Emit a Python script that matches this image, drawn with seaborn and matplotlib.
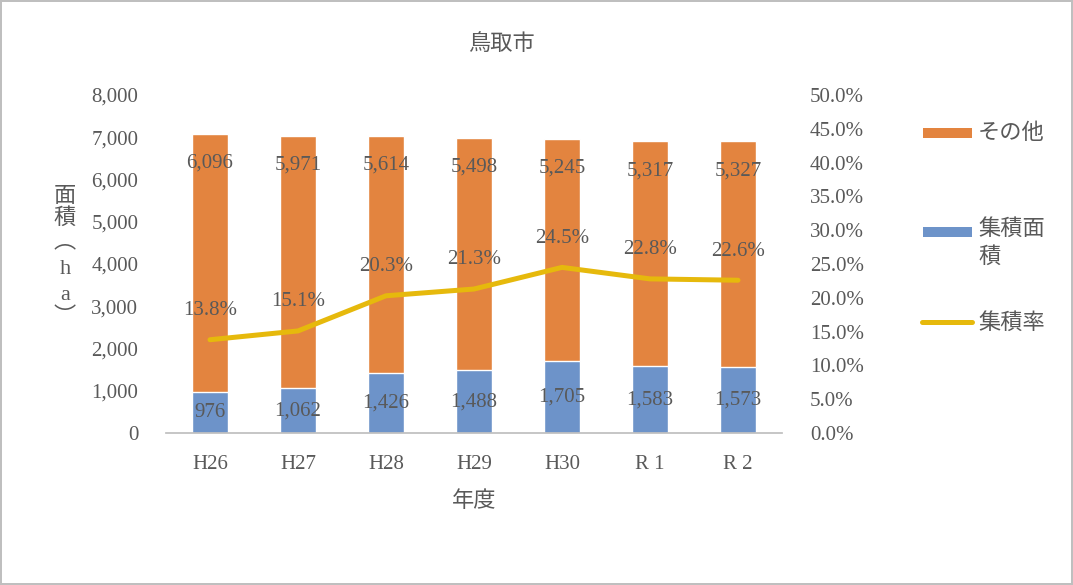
import matplotlib
import numpy as np
import pandas as pd

matplotlib.use("Agg")
import matplotlib.pyplot as plt  # noqa: E402
import seaborn as sns  # noqa: E402
from matplotlib.lines import Line2D  # noqa: E402
from matplotlib.patches import Rectangle  # noqa: E402
from matplotlib.ticker import FuncFormatter  # noqa: E402

# データ（年度別 面積 ha・集積率 %）
years = ["H26", "H27", "H28", "H29", "H30", "R 1", "R 2"]
shuseki = [976, 1062, 1426, 1488, 1705, 1583, 1573]      # 集積面積
sonota = [6096, 5971, 5614, 5498, 5245, 5317, 5327]      # その他
rate = [13.8, 15.1, 20.3, 21.3, 24.5, 22.8, 22.6]        # 集積率

C_ORANGE = "#E3843F"
C_BLUE = "#6D93C9"
C_GOLD = "#E6B90C"
C_TEXT = "#595959"
FS = 15
W, H = 1073, 585

sns.set_theme(style="white")
plt.rcParams["font.family"] = ["Liberation Serif", "Noto Sans CJK JP", "DejaVu Sans"]

df = pd.DataFrame({"year": years, "shuseki": shuseki, "sonota": sonota, "rate": rate})
df["total"] = df["shuseki"] + df["sonota"]
df["pos"] = np.arange(len(df))

fig = plt.figure(figsize=(W / 100, H / 100), dpi=100)
fig.patch.set_edgecolor("#BFBFBF")
fig.patch.set_linewidth(1.5)
ax = fig.add_axes([0.1547, 0.2598, 0.5741, 0.5778])

# 積み上げ棒: 合計をオレンジで描き、その上に集積面積を青で重ねる
sns.barplot(data=df, x="year", y="total", color=C_ORANGE, width=0.4,
            saturation=1, ax=ax)
sns.barplot(data=df, x="year", y="shuseki", color=C_BLUE, width=0.4,
            saturation=1, ax=ax)

ax.set_ylim(0, 8000)
ax.set_yticks(np.arange(0, 8001, 1000))
ax.yaxis.set_major_formatter(FuncFormatter(lambda v, p: f"{int(v):,}"))
ax.set_xlim(-0.5, len(df) - 0.5)
for s in ["top", "right", "left"]:
    ax.spines[s].set_visible(False)
ax.spines["bottom"].set_color("#BFBFBF")
ax.tick_params(axis="y", length=0, pad=20, labelsize=FS, labelcolor=C_TEXT)
ax.tick_params(axis="x", length=0, pad=16, labelsize=FS, labelcolor=C_TEXT)
ax.set_xlabel("年度", fontsize=FS + 1, color=C_TEXT, labelpad=12)
ax.set_ylabel("")

# 棒のラベル
for _, r in df.iterrows():
    ax.annotate(f"{r['sonota']:,}", (r["pos"], r["total"]), xytext=(0, -21),
                textcoords="offset points", ha="center", va="center",
                fontsize=FS, color=C_TEXT)
    ax.text(r["pos"], r["shuseki"] / 2, f"{r['shuseki']:,}", ha="center",
            va="center", fontsize=FS, color=C_TEXT)

# 集積率（第2軸）
ax2 = ax.twinx()
sns.lineplot(data=df, x="pos", y="rate", color=C_GOLD, linewidth=3.6, ax=ax2)
ax2.set_ylim(0, 50)
ax2.set_yticks(np.arange(0, 50.1, 5))
ax2.yaxis.set_major_formatter(FuncFormatter(lambda v, p: f"{v:.1f}%"))
ax2.set_xlim(-0.5, len(df) - 0.5)
for s in ["top", "right", "left", "bottom"]:
    ax2.spines[s].set_visible(False)
ax2.tick_params(axis="y", length=0, pad=20, labelsize=FS, labelcolor=C_TEXT)
ax2.set_ylabel("")
ax2.set_xlabel("")
for _, r in df.iterrows():
    ax2.annotate(f"{r['rate']:.1f}%", (r["pos"], r["rate"]), xytext=(0, 21),
                 textcoords="offset points", ha="center", va="center",
                 fontsize=FS, color=C_TEXT)

# 縦書きの軸ラベル（一文字ずつ）
ylab_chars = ["面", "積", "︵", "h", "a", "︶"]
ylab_px = [197, 218, 243, 270, 296, 318]
for ch, py in zip(ylab_chars, ylab_px):
    fig.text(65 / W, 1 - py / H, ch, ha="center", va="center",
             fontsize=FS + 1, color=C_TEXT)

fig.text(0.467, 1 - 45 / H, "鳥取市", ha="center", va="center",
         fontsize=FS + 1, color=C_TEXT)

# 凡例（Excel風：集積面積は折り返し表示）
LFS = FS + 1
tf = fig.transFigure
fig.add_artist(Rectangle((923 / W, 1 - 138 / H), 49 / W, 10 / H,
                         facecolor=C_ORANGE, edgecolor="none", transform=tf))
fig.text(978 / W, 1 - 134 / H, "その他", ha="left", va="center",
         fontsize=LFS, color=C_TEXT)
fig.add_artist(Rectangle((923 / W, 1 - 237 / H), 49 / W, 10 / H,
                         facecolor=C_BLUE, edgecolor="none", transform=tf))
fig.text(978 / W, 1 - 229 / H, "集積面", ha="left", va="center",
         fontsize=LFS, color=C_TEXT)
fig.text(978 / W, 1 - 257 / H, "積", ha="left", va="center",
         fontsize=LFS, color=C_TEXT)
fig.add_artist(Line2D([922 / W, 972 / W], [1 - 322 / H, 1 - 322 / H],
                      color=C_GOLD, linewidth=3.6, transform=tf))
fig.text(978 / W, 1 - 323 / H, "集積率", ha="left", va="center",
         fontsize=LFS, color=C_TEXT)

fig.savefig("out.png", dpi=100)
